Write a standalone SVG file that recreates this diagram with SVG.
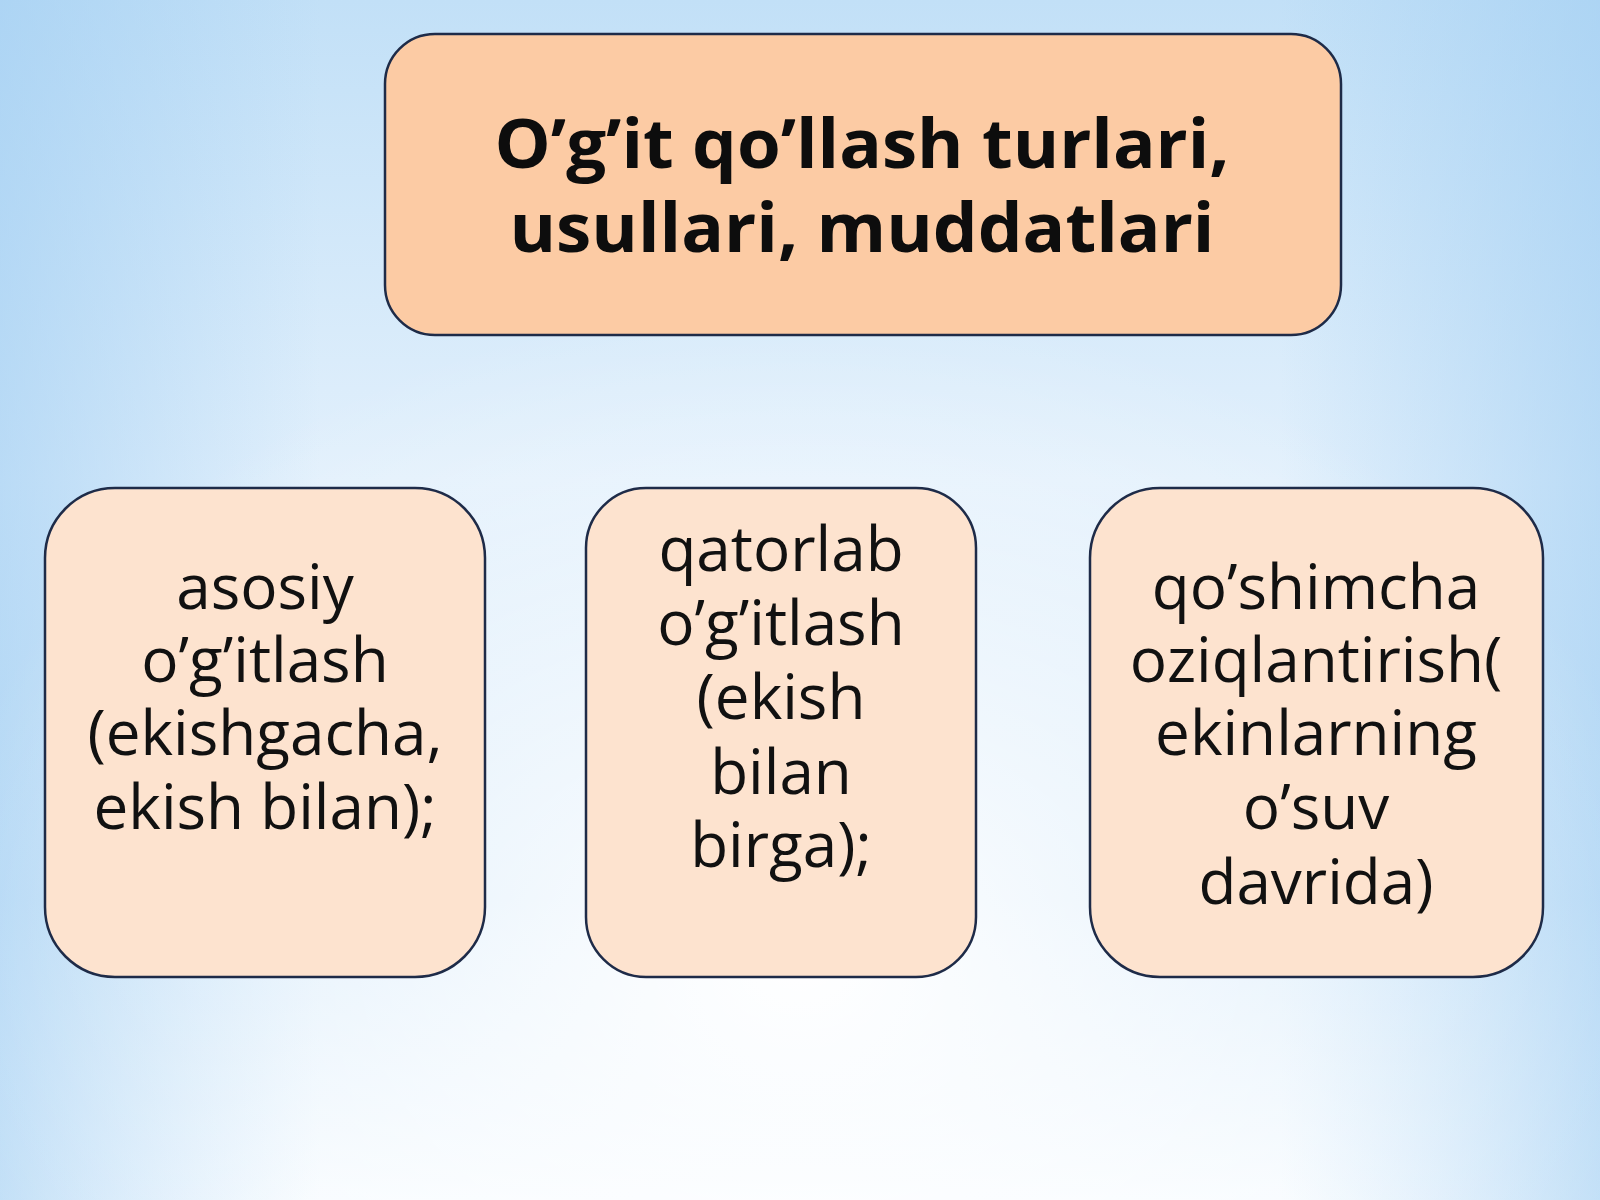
<svg xmlns="http://www.w3.org/2000/svg" width="1600" height="1200" viewBox="0 0 1600 1200">
<defs>
<linearGradient id="bgv" x1="0" y1="0" x2="0" y2="1">
<stop offset="0" stop-color="#c2e0f7"/>
<stop offset="0.4" stop-color="#e2f0fc"/>
<stop offset="0.75" stop-color="#d4e9fa"/>
<stop offset="1" stop-color="#f6fbff"/>
</linearGradient>
<radialGradient id="bgr" cx="0.5" cy="0.8" r="0.55">
<stop offset="0" stop-color="#ffffff" stop-opacity="1"/>
<stop offset="0.5" stop-color="#ffffff" stop-opacity="0.5"/>
<stop offset="1" stop-color="#ffffff" stop-opacity="0"/>
</radialGradient>
<linearGradient id="bgh" x1="0" y1="0" x2="1" y2="0">
<stop offset="0" stop-color="#9fcdf2" stop-opacity="0.6"/>
<stop offset="0.2" stop-color="#9fcdf2" stop-opacity="0"/>
<stop offset="0.8" stop-color="#9fcdf2" stop-opacity="0"/>
<stop offset="1" stop-color="#9fcdf2" stop-opacity="0.6"/>
</linearGradient>
</defs>
<style>
.box{stroke:#1e2b48;stroke-width:2.5}
.top{fill:#fccba4}
.sub{fill:#fde3cf}
.title{font-family:"Open Sans","Noto Sans",sans-serif;font-weight:bold;font-size:68px;fill:#0d0d0d;text-anchor:middle}
.lbl{font-family:"Open Sans","Noto Sans",sans-serif;font-size:62px;fill:#111;text-anchor:middle}
</style>
<rect width="1600" height="1200" fill="url(#bgv)"/>
<rect width="1600" height="1200" fill="url(#bgh)"/>
<rect width="1600" height="1200" fill="url(#bgr)"/>
<g id="title-node">
<rect class="box top" x="385" y="34" width="956" height="301" rx="50"/>
<text class="title" x="862" y="168" textLength="735" lengthAdjust="spacingAndGlyphs">O’g’it qo’llash turlari,</text>
<text class="title" x="862" y="252" textLength="705" lengthAdjust="spacingAndGlyphs">usullari, muddatlari</text>
</g>
<g id="node-asosiy">
<rect class="box sub" x="45" y="488" width="440" height="489" rx="70"/>
<text class="lbl" x="265" y="609">asosiy</text>
<text class="lbl" x="265" y="682">o’g’itlash</text>
<text class="lbl" x="265" y="755">(ekishgacha,</text>
<text class="lbl" x="265" y="829">ekish bilan);</text>
</g>
<g id="node-qatorlab">
<rect class="box sub" x="586" y="488" width="390" height="489" rx="60"/>
<text class="lbl" x="781" y="571">qatorlab</text>
<text class="lbl" x="781" y="645">o’g’itlash</text>
<text class="lbl" x="781" y="719">(ekish</text>
<text class="lbl" x="781" y="794">bilan</text>
<text class="lbl" x="781" y="867">birga);</text>
</g>
<g id="node-qoshimcha">
<rect class="box sub" x="1090" y="488" width="453" height="489" rx="70"/>
<text class="lbl" x="1316" y="609">qo’shimcha</text>
<text class="lbl" x="1316" y="682">oziqlantirish(</text>
<text class="lbl" x="1316" y="755">ekinlarning</text>
<text class="lbl" x="1316" y="829">o’suv</text>
<text class="lbl" x="1316" y="904">davrida)</text>
</g>
<g id="connectors"></g>
</svg>
